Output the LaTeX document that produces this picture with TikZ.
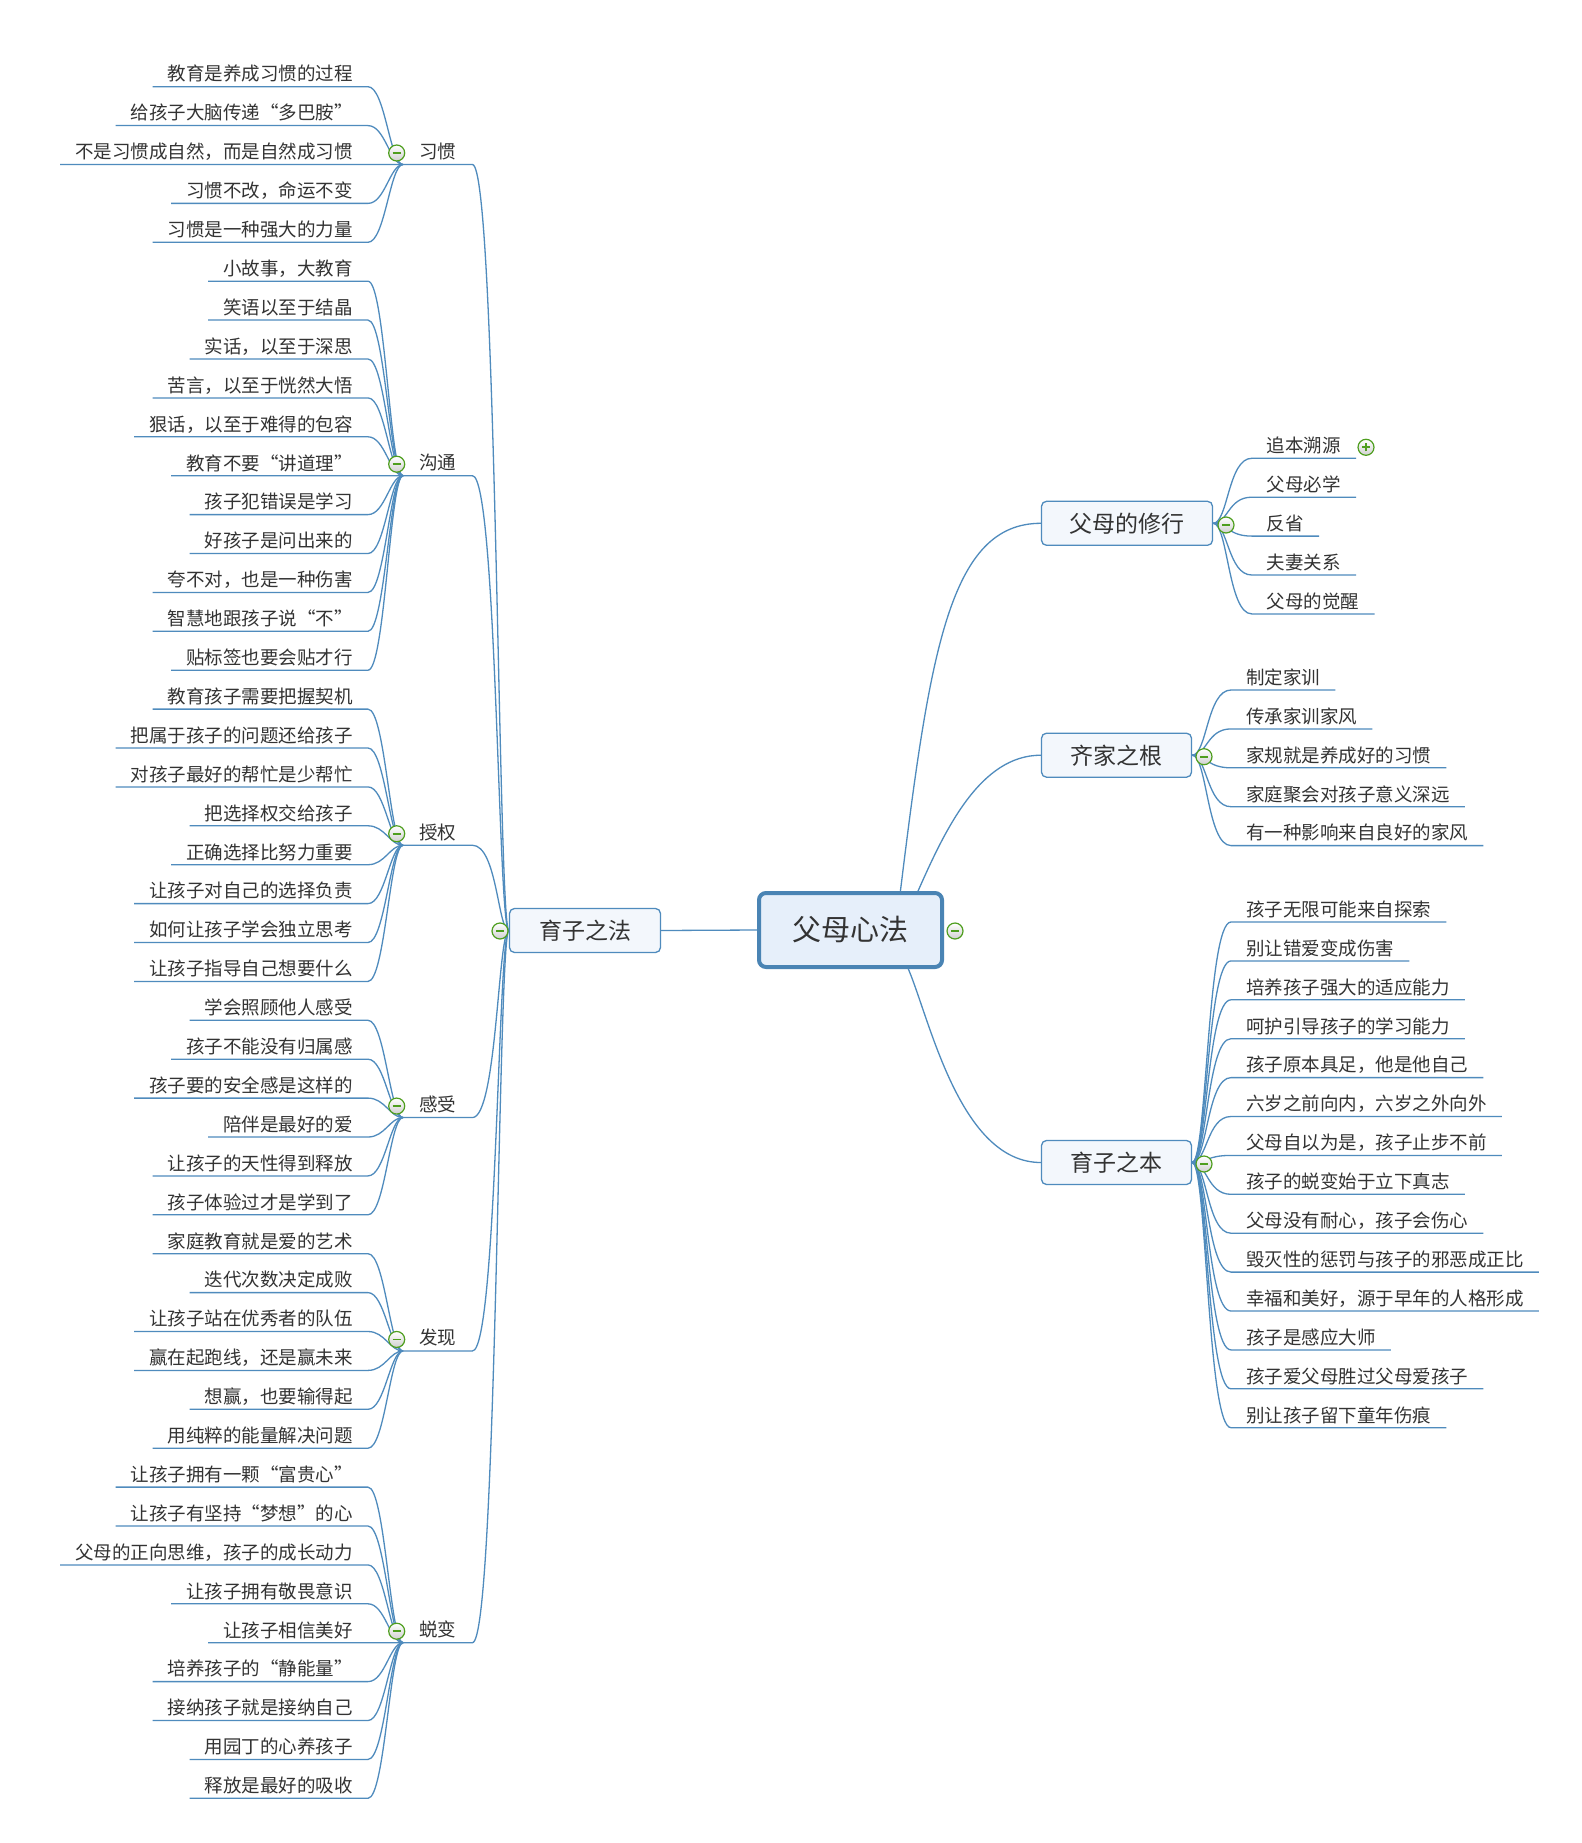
\documentclass[tikz,border=0pt]{standalone}
\usepackage{fontspec}
\setmainfont{Noto Sans CJK SC}[RawFeature=+fwid]
\definecolor{lineblue}{HTML}{4F8BBD}
\definecolor{boxfill}{HTML}{F3F7FC}
\definecolor{rootfill}{HTML}{E6EFFA}
\definecolor{rootline}{HTML}{4A84B4}
\definecolor{txt}{HTML}{333333}
\definecolor{icongreen}{HTML}{4E9E1E}
\definecolor{icongray}{HTML}{D0D0D0}
\newcommand\leaffont{\fontsize{18.5pt}{20pt}\selectfont}
\newcommand\topicfont{\fontsize{23pt}{25pt}\selectfont}
\newcommand\rootfont{\fontsize{29pt}{31pt}\selectfont}
\tikzset{
  conn/.style={draw=lineblue, line width=1.3pt},
  leafL/.style={anchor=south east, inner xsep=15pt, inner ysep=5.5pt, text height=14pt, text depth=0pt, font=\leaffont, text=txt},
  leafR/.style={anchor=south west, inner xsep=15pt, inner ysep=5.5pt, text height=14pt, text depth=0pt, font=\leaffont, text=txt},
  sublabel/.style={anchor=south west, minimum width=69pt, inner xsep=0pt, inner ysep=6pt, text height=14pt, text depth=0pt, font=\leaffont, text=txt},
  topicbox/.style={draw=lineblue, fill=boxfill, line width=1.3pt, rounded corners=5pt, minimum height=44pt, inner sep=0pt, font=\topicfont, text=txt},
  rootbox/.style={draw=rootline, fill=rootfill, line width=4pt, rounded corners=7pt, minimum width=183pt, minimum height=74pt, inner sep=0pt, font=\rootfont, text=txt},
  minusicon/.style={circle, minimum size=16pt, inner sep=0pt, draw=icongreen, line width=1.2pt, top color=white, bottom color=icongray,
    path picture={\draw[icongreen, line width=1.8pt] ([xshift=-4pt]path picture bounding box.center) -- ([xshift=4pt]path picture bounding box.center);}},
  plusicon/.style={circle, minimum size=16pt, inner sep=0pt, draw=icongreen, line width=1.2pt, top color=white, bottom color=icongray,
    path picture={\draw[icongreen, line width=1.8pt] ([xshift=-4pt]path picture bounding box.center) -- ([xshift=4pt]path picture bounding box.center);
                  \draw[icongreen, line width=1.8pt] ([yshift=-4pt]path picture bounding box.center) -- ([yshift=4pt]path picture bounding box.center);}},
}
% left group: #1 id, #2 label, #3 first index, #4 junction y, #5 leaves
\newcommand{\LeftGrp}[5]{%
  \node[sublabel] (#1) at (403,#4) {#2};
  \draw[conn] (#1.south west) -- (#1.south east) .. controls (497,#4) and (498,930.5) .. (yzf.west);
  \foreach \t [count=\k from #3] in {#5} {
    \pgfmathsetmacro\yy{86.7+38.9*\k}
    \node[leafL] (#1-\k) at (368,\yy) {\t};
    \draw[conn] (#1-\k.south west) -- (#1-\k.south east) .. controls (385,\yy) and (390,#4) .. (#1.south west);
  }
  \node[minusicon] (#1-c) at (396.7,#4-11.5) {};
}
% right group: #1 parent id, #2 first y, #3 start x, #4 ctrl x, #5 parent y, #6 leaves
\newcommand{\RightGrp}[6]{%
  \foreach \t [count=\k from 0] in {#6} {
    \pgfmathsetmacro\yy{#2+38.9*\k}
    \node[leafR] (#1-\k) at (#3,\yy) {\t};
    \draw[conn] (#1.east) .. controls (#4,#5) and (#4,\yy) .. (#1-\k.south west) -- (#1-\k.south east);
  }
}
\begin{document}
\begin{tikzpicture}[x=1pt, y=-1pt]
\fill[white] (0,0) rectangle (1581,1843);
\useasboundingbox (0,0) rectangle (1581,1843);

% main nodes
\node[rootbox] (root) at (850.5,930) {父母心法};
\node[topicbox, minimum width=151pt] (yzf) at (585,930.5) {育子之法};
\node[topicbox, minimum width=171pt] (fmx) at (1127,523.3) {父母的修行};
\node[topicbox, minimum width=150pt] (qjz) at (1116.5,755.2) {齐家之根};
\node[topicbox, minimum width=150pt] (yzb) at (1116.5,1162.5) {育子之本};

\draw[conn] (yzf.east) -- (root.west);
\draw[conn] (root.38) .. controls (930,650) and (950,523.3) .. (fmx.west);
\draw[conn] (root.30) .. controls (945,830) and (980,755.2) .. (qjz.west);
\draw[conn] (root.-34) .. controls (930,1020) and (960,1162.5) .. (yzb.west);

% left side
\LeftGrp{xg}{习惯}{0}{164.5}{教育是养成习惯的过程,给孩子大脑传递“多巴胺”,不是习惯成自然，而是自然成习惯,习惯不改，命运不变,习惯是一种强大的力量}
\LeftGrp{gt}{沟通}{5}{475.7}{小故事，大教育,笑语以至于结晶,实话，以至于深思,苦言，以至于恍然大悟,狠话，以至于难得的包容,教育不要“讲道理”,孩子犯错误是学习,好孩子是问出来的,夸不对，也是一种伤害,智慧地跟孩子说“不”,贴标签也要会贴才行}
\LeftGrp{sq}{授权}{16}{845.25}{教育孩子需要把握契机,把属于孩子的问题还给孩子,对孩子最好的帮忙是少帮忙,把选择权交给孩子,正确选择比努力重要,让孩子对自己的选择负责,如何让孩子学会独立思考,让孩子指导自己想要什么}
\LeftGrp{gs}{感受}{24}{1117.55}{学会照顾他人感受,孩子不能没有归属感,孩子要的安全感是这样的,陪伴是最好的爱,让孩子的天性得到释放,孩子体验过才是学到了}
\LeftGrp{fx}{发现}{30}{1350.95}{家庭教育就是爱的艺术,迭代次数决定成败,让孩子站在优秀者的队伍,赢在起跑线，还是赢未来,想赢，也要输得起,用纯粹的能量解决问题}
\LeftGrp{tb}{蜕变}{36}{1642.7}{让孩子拥有一颗“富贵心”,让孩子有坚持“梦想”的心,父母的正向思维，孩子的成长动力,让孩子拥有敬畏意识,让孩子相信美好,培养孩子的“静能量”,接纳孩子就是接纳自己,用园丁的心养孩子,释放是最好的吸收}

% right side
\RightGrp{fmx}{458.3}{1251.7}{1228}{523.3}{追本溯源,父母必学,反省,夫妻关系,父母的觉醒}
\RightGrp{qjz}{690}{1231}{1207}{755.2}{制定家训,传承家训家风,家规就是养成好的习惯,家庭聚会对孩子意义深远,有一种影响来自良好的家风}
\RightGrp{yzb}{922}{1231}{1207}{1162.5}{孩子无限可能来自探索,别让错爱变成伤害,培养孩子强大的适应能力,呵护引导孩子的学习能力,孩子原本具足，他是他自己,六岁之前向内，六岁之外向外,父母自以为是，孩子止步不前,孩子的蜕变始于立下真志,父母没有耐心，孩子会伤心,毁灭性的惩罚与孩子的邪恶成正比,幸福和美好，源于早年的人格形成,孩子是感应大师,孩子爱父母胜过父母爱孩子,别让孩子留下童年伤痕}

% icons
\node[minusicon] (yzf-c) at (500,931) {};
\node[minusicon] (root-c) at (955,931) {};
\node[minusicon] (fmx-c) at (1226,525) {};
\node[minusicon] (qjz-c) at (1204,756.7) {};
\node[minusicon] (yzb-c) at (1204,1164) {};
\node[plusicon] (fmx-0-p) at (1366,447.3) {};
\end{tikzpicture}
\end{document}
